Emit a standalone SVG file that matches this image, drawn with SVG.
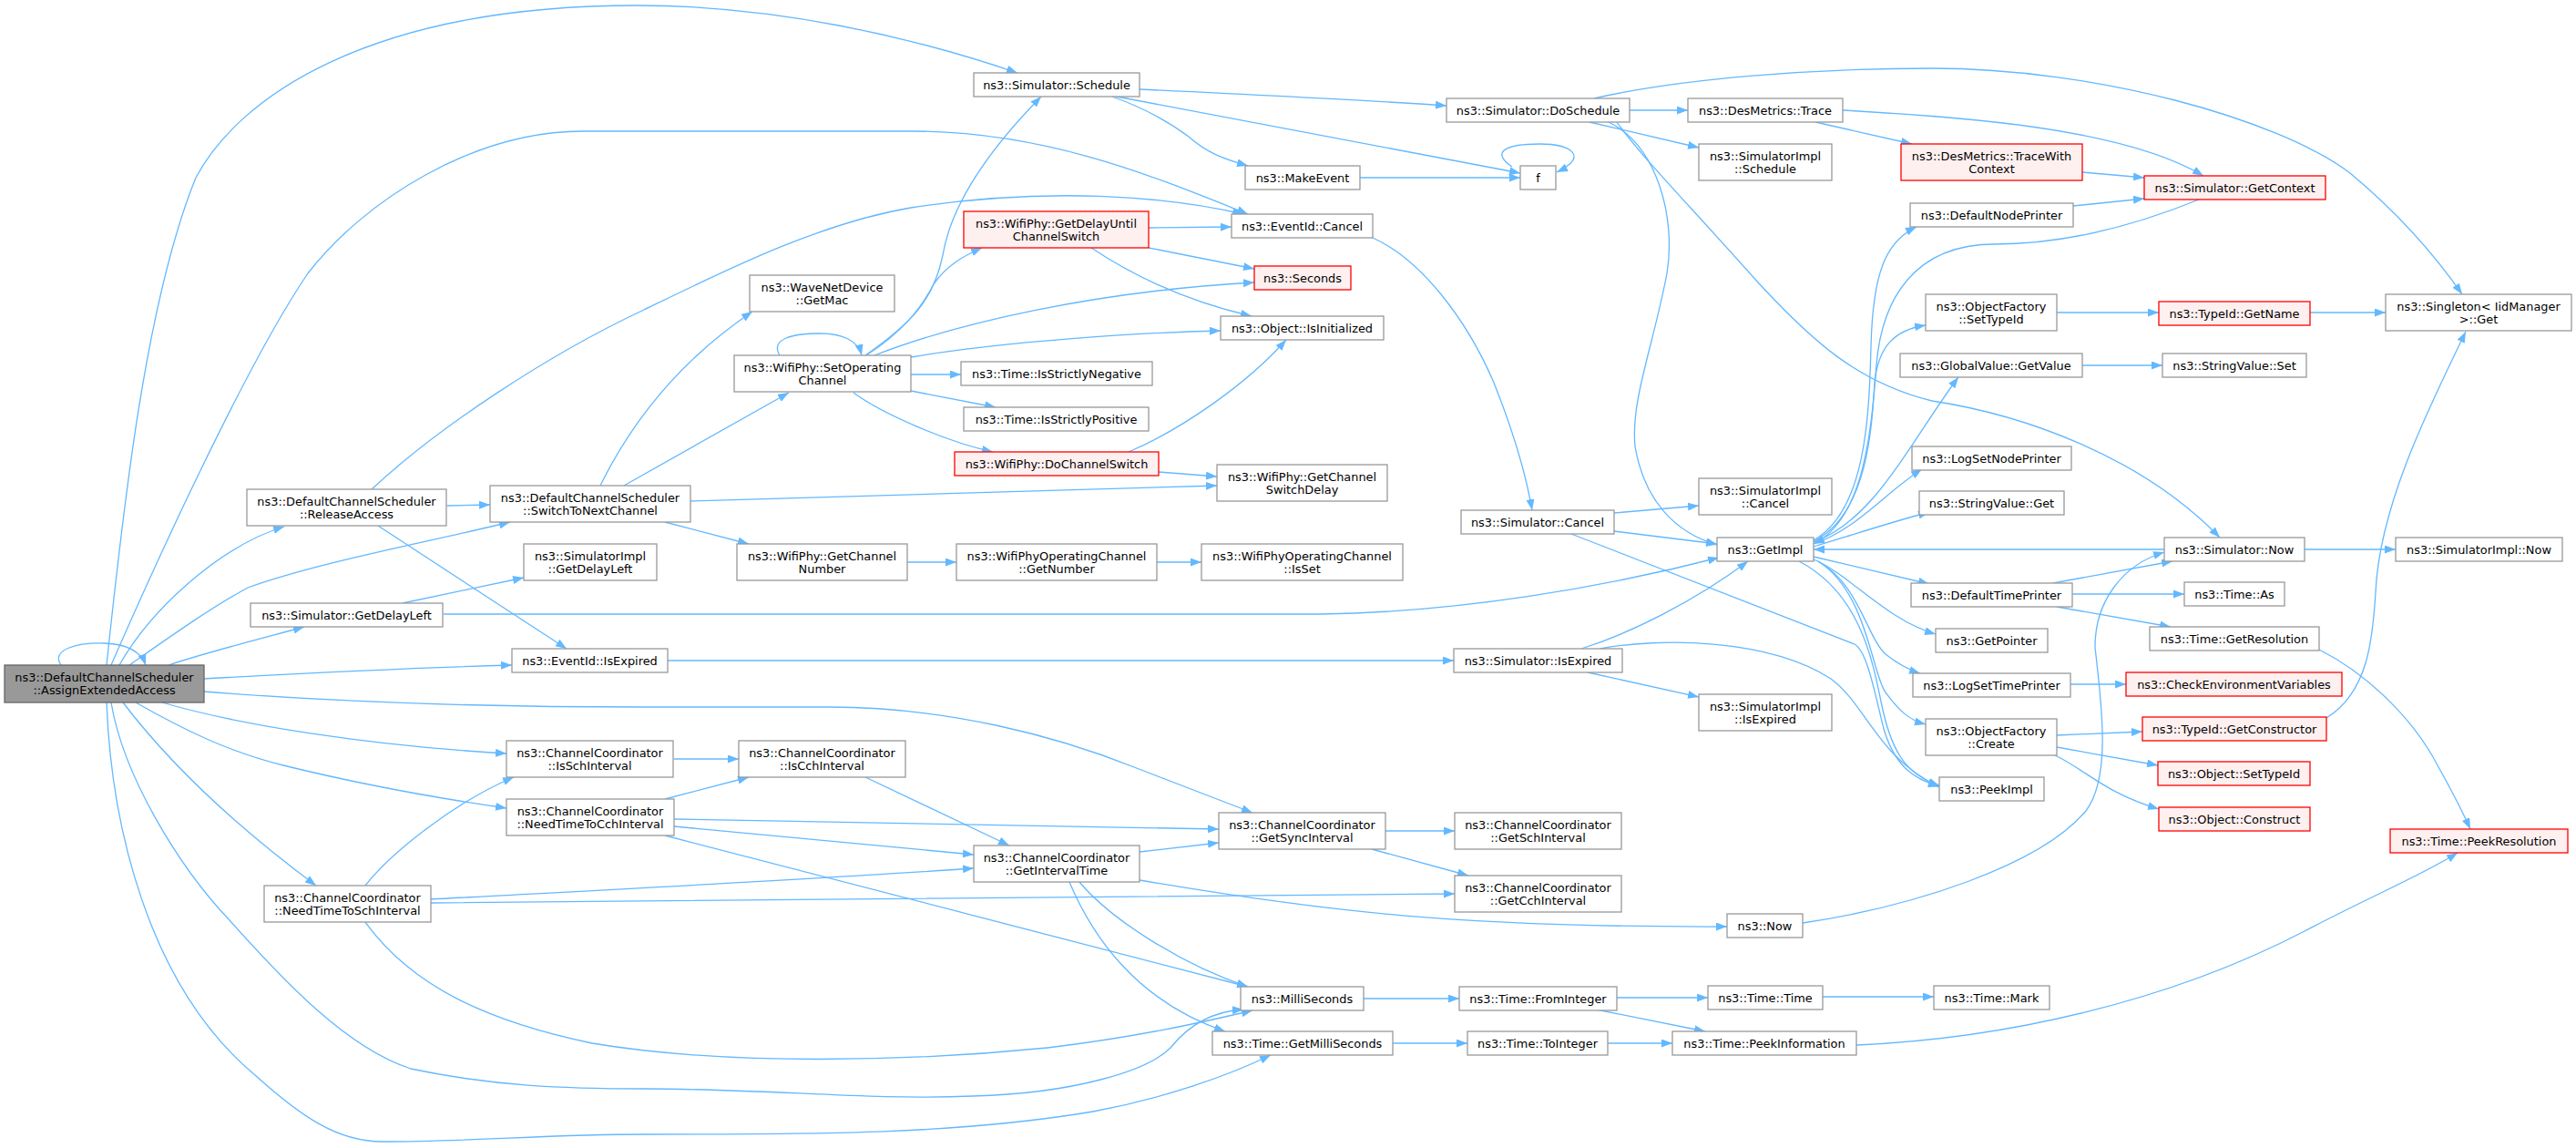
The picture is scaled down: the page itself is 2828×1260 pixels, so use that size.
<svg xmlns="http://www.w3.org/2000/svg" width="2828" height="1260" viewBox="0 0 2828 1260">
<defs>
<marker id="a" markerUnits="userSpaceOnUse" markerWidth="13" markerHeight="10" refX="12" refY="4.5" orient="auto"><path d="M0,0 L12,4.5 L0,9 z" fill="#63B8FF"/></marker>
</defs>
<style>
rect{fill:#fff;stroke:#999;stroke-width:1.3}
.r rect{fill:#FFF0F0;stroke:#FF0000}
.m rect{fill:#999;stroke:#666}
text{font-family:"DejaVu Sans","Liberation Sans",sans-serif;font-size:12.9px;text-anchor:middle;fill:#000}
.e path{fill:none;stroke:#63B8FF;stroke-width:1.3;marker-end:url(#a)}
</style>
<rect x="0" y="0" width="2828" height="1260" style="fill:#fff;stroke:none"/>
<g id="edges" class="e">
<path d="M67,730 C55,713 85,705 115,706 C140,707 155,716 160,730"/>
<path d="M117,730 C135,560 160,330 215,195 C260,110 400,6 700,6 C850,6 1000,40 1117,80"/>
<path d="M122,730 C170,620 270,400 338,300 C400,220 520,144 640,144 L1000,144 C1150,144 1270,195 1370,235"/>
<path d="M131,730 C165,670 240,600 312,578"/>
<path d="M142,730 C185,700 230,668 272,645 C350,617 470,595 560,573"/>
<path d="M185,730 C230,715 290,700 334,688"/>
<path d="M224,745 C350,738 450,733 562,730"/>
<path d="M224,759 C400,773 560,776 707,776 L910,776 C1040,776 1160,808 1245,842 L1375,892"/>
<path d="M178,771 C260,795 400,818 556,827"/>
<path d="M149,771 C200,800 250,825 311,840 C400,862 480,876 556,887"/>
<path d="M135,771 C180,830 250,900 347,972"/>
<path d="M122,771 C135,850 195,950 252,1010 C310,1075 380,1150 451,1173 C540,1192 620,1195 707,1195 C850,1195 950,1208 1068,1203 C1180,1200 1260,1175 1285,1150 C1305,1125 1330,1110 1365,1108"/>
<path d="M117,771 C122,900 160,1080 280,1180 C330,1225 370,1253 420,1253 C520,1253 600,1245 707,1245 C900,1245 1050,1245 1200,1220 C1280,1205 1350,1180 1395,1158"/>
<path d="M491,555 L538,554"/>
<path d="M415,577 L622,712"/>
<path d="M408,537 C480,470 600,390 707,340 C800,295 900,245 1000,228 C1150,205 1280,215 1365,235"/>
<path d="M442,662 L575,634"/>
<path d="M487,674 L1450,674 C1600,672 1760,645 1887,612"/>
<path d="M659,533 C690,470 740,400 826,342"/>
<path d="M685,533 L866,431"/>
<path d="M758,550 L1336,533"/>
<path d="M730,573 L822,597"/>
<path d="M856,390 C845,372 870,366 900,366 C925,366 942,374 946,390"/>
<path d="M950,390 C1000,355 1025,330 1035,280 C1045,220 1090,160 1143,106"/>
<path d="M951,390 C990,365 1010,340 1025,312 C1040,290 1060,280 1078,272"/>
<path d="M960,390 C1050,355 1200,320 1377,310"/>
<path d="M1000,392 C1100,375 1250,365 1340,363"/>
<path d="M1000,411 L1055,411"/>
<path d="M1000,429 L1093,447"/>
<path d="M937,431 C970,455 1040,485 1090,496"/>
<path d="M1261,250 L1352,249"/>
<path d="M1261,272 L1377,295"/>
<path d="M1198,272 C1240,300 1300,330 1374,347"/>
<path d="M1272,518 L1336,523"/>
<path d="M1239,496 C1300,470 1370,420 1412,373"/>
<path d="M996,617 L1050,617"/>
<path d="M1270,617 L1319,617"/>
<path d="M1251,98 C1400,105 1500,110 1588,116"/>
<path d="M1221,106 C1260,120 1285,135 1305,150 C1325,168 1345,175 1370,182"/>
<path d="M1226,106 L1669,190"/>
<path d="M1493,195 L1669,195"/>
<path d="M1660,183 C1635,166 1655,158 1690,158 C1725,158 1745,172 1709,189"/>
<path d="M1507,261 C1560,285 1610,350 1640,420 C1660,470 1675,520 1682,560"/>
<path d="M1789,121 L1853,121"/>
<path d="M1745,134 L1865,162"/>
<path d="M1750,108 C1850,85 2000,75 2121,75 C2300,75 2500,130 2580,190 C2640,240 2680,290 2703,323"/>
<path d="M1766,134 C1820,160 1840,240 1830,300 C1815,380 1790,440 1795,490 C1805,550 1840,585 1885,598"/>
<path d="M1775,134 C1800,170 1850,220 1930,310 C1990,375 2040,420 2121,440 C2220,455 2350,500 2437,590"/>
<path d="M1993,134 L2099,158"/>
<path d="M2023,121 C2150,128 2330,140 2419,193"/>
<path d="M2286,189 L2354,195"/>
<path d="M2276,226 L2354,218"/>
<path d="M2414,219 C2350,245 2270,268 2190,268 C2100,268 2066,330 2060,400 C2054,480 2045,570 1991,597"/>
<path d="M2376,603 L1991,603"/>
<path d="M1991,593 C2050,560 2052,450 2054,380 C2056,300 2070,265 2104,249"/>
<path d="M1991,594 C2050,565 2055,470 2058,420 C2062,380 2080,362 2114,357"/>
<path d="M1991,595 C2060,570 2100,480 2150,414"/>
<path d="M1991,597 C2040,580 2070,540 2110,515"/>
<path d="M1991,600 C2040,585 2080,572 2118,562"/>
<path d="M1991,611 L2118,641"/>
<path d="M1991,614 C2030,630 2070,680 2125,696"/>
<path d="M1996,616 C2040,640 2050,700 2070,718 C2085,730 2095,735 2108,739"/>
<path d="M1996,616 C2050,650 2055,740 2070,760 C2085,780 2095,790 2114,795"/>
<path d="M1975,616 C2040,650 2055,720 2065,770 C2075,820 2090,850 2129,862"/>
<path d="M1725,586 L2036,707 C2050,715 2058,760 2068,800 C2080,840 2100,855 2129,863"/>
<path d="M1757,712 C1820,700 1940,700 2010,745 C2050,775 2060,830 2129,864"/>
<path d="M1772,563 L1865,555"/>
<path d="M1772,583 L1885,597"/>
<path d="M1736,712 C1790,695 1860,660 1919,616"/>
<path d="M1743,738 L1865,765"/>
<path d="M733,725 L1596,725"/>
<path d="M2258,343 L2370,343"/>
<path d="M2536,343 L2619,343"/>
<path d="M2286,401 L2374,401"/>
<path d="M2530,603 L2630,603"/>
<path d="M2254,640 L2385,616"/>
<path d="M2275,652 L2398,652"/>
<path d="M2258,666 L2383,688"/>
<path d="M1979,1013 C2100,995 2240,950 2290,890 C2320,850 2305,760 2300,710 C2300,660 2330,620 2376,606"/>
<path d="M2273,751 L2334,751"/>
<path d="M2258,807 L2352,803"/>
<path d="M2258,820 L2369,840"/>
<path d="M2256,829 C2290,845 2310,870 2370,888"/>
<path d="M2554,788 C2600,760 2605,700 2608,650 C2612,560 2660,460 2707,364"/>
<path d="M2546,713 C2600,740 2650,790 2676,840 C2690,865 2703,890 2712,910"/>
<path d="M2038,1147 C2200,1140 2380,1100 2530,1022 C2600,985 2660,960 2698,936"/>
<path d="M740,833 L811,833"/>
<path d="M950,853 L1108,928"/>
<path d="M730,877 L822,853"/>
<path d="M740,899 L1338,910"/>
<path d="M740,907 L1069,938"/>
<path d="M730,917 L1370,1083"/>
<path d="M401,972 C430,935 500,880 564,853"/>
<path d="M473,987 C600,980 900,965 1069,953"/>
<path d="M473,991 C800,988 1200,984 1597,981"/>
<path d="M401,1012 C450,1080 530,1120 650,1145 C800,1170 1000,1165 1150,1150 C1250,1138 1320,1122 1375,1109"/>
<path d="M1251,935 L1338,925"/>
<path d="M1185,968 C1220,1010 1300,1060 1370,1083"/>
<path d="M1174,968 C1200,1030 1250,1100 1345,1132"/>
<path d="M1251,966 C1450,1000 1600,1018 1896,1017"/>
<path d="M1521,912 L1597,912"/>
<path d="M1506,932 L1612,961"/>
<path d="M1497,1096 L1602,1096"/>
<path d="M1529,1145 L1611,1145"/>
<path d="M1775,1095 L1875,1095"/>
<path d="M1752,1108 L1872,1132"/>
<path d="M1765,1145 L1836,1145"/>
<path d="M2001,1094 L2123,1094"/>
</g>
<g id="n0" class="m"><rect x="5" y="730" width="219" height="41"/><text x="114.5" y="748">ns3::DefaultChannelScheduler</text><text x="114.5" y="762">::AssignExtendedAccess</text></g>
<g id="n1"><rect x="271" y="537" width="219" height="40"/><text x="380.5" y="554.5">ns3::DefaultChannelScheduler</text><text x="380.5" y="568.5">::ReleaseAccess</text></g>
<g id="n2"><rect x="538" y="533" width="220" height="40"/><text x="648" y="550.5">ns3::DefaultChannelScheduler</text><text x="648" y="564.5">::SwitchToNextChannel</text></g>
<g id="n3"><rect x="575" y="597" width="146" height="40"/><text x="648" y="614.5">ns3::SimulatorImpl</text><text x="648" y="628.5">::GetDelayLeft</text></g>
<g id="n4"><rect x="275" y="662" width="211" height="26"/><text x="380.5" y="679.5">ns3::Simulator::GetDelayLeft</text></g>
<g id="n5"><rect x="562" y="712" width="171" height="26"/><text x="647.5" y="729.5">ns3::EventId::IsExpired</text></g>
<g id="n6"><rect x="556" y="813" width="183" height="40"/><text x="647.5" y="830.5">ns3::ChannelCoordinator</text><text x="647.5" y="844.5">::IsSchInterval</text></g>
<g id="n7"><rect x="556" y="877" width="184" height="40"/><text x="648" y="894.5">ns3::ChannelCoordinator</text><text x="648" y="908.5">::NeedTimeToCchInterval</text></g>
<g id="n8"><rect x="290" y="972" width="183" height="40"/><text x="381.5" y="989.5">ns3::ChannelCoordinator</text><text x="381.5" y="1003.5">::NeedTimeToSchInterval</text></g>
<g id="n9"><rect x="1069" y="80" width="182" height="26"/><text x="1160" y="97.5">ns3::Simulator::Schedule</text></g>
<g id="n10"><rect x="1367" y="182" width="126" height="26"/><text x="1430" y="199.5">ns3::MakeEvent</text></g>
<g id="n11"><rect x="1352" y="235" width="155" height="26"/><text x="1429.5" y="252.5">ns3::EventId::Cancel</text></g>
<g id="n12" class="r"><rect x="1058" y="232" width="203" height="40"/><text x="1159.5" y="249.5">ns3::WifiPhy::GetDelayUntil</text><text x="1159.5" y="263.5">ChannelSwitch</text></g>
<g id="n13" class="r"><rect x="1377" y="292" width="106" height="26"/><text x="1430" y="309.5">ns3::Seconds</text></g>
<g id="n14"><rect x="1340" y="347" width="179" height="26"/><text x="1429.5" y="364.5">ns3::Object::IsInitialized</text></g>
<g id="n15"><rect x="823" y="302" width="159" height="40"/><text x="902.5" y="319.5">ns3::WaveNetDevice</text><text x="902.5" y="333.5">::GetMac</text></g>
<g id="n16"><rect x="806" y="390" width="194" height="40"/><text x="903" y="407.5">ns3::WifiPhy::SetOperating</text><text x="903" y="421.5">Channel</text></g>
<g id="n17"><rect x="1055" y="397" width="210" height="26"/><text x="1160" y="414.5">ns3::Time::IsStrictlyNegative</text></g>
<g id="n18"><rect x="1058" y="447" width="203" height="26"/><text x="1159.5" y="464.5">ns3::Time::IsStrictlyPositive</text></g>
<g id="n19" class="r"><rect x="1048" y="496" width="224" height="26"/><text x="1160" y="513.5">ns3::WifiPhy::DoChannelSwitch</text></g>
<g id="n20"><rect x="1336" y="510" width="187" height="40"/><text x="1429.5" y="527.5">ns3::WifiPhy::GetChannel</text><text x="1429.5" y="541.5">SwitchDelay</text></g>
<g id="n21"><rect x="809" y="597" width="187" height="40"/><text x="902.5" y="614.5">ns3::WifiPhy::GetChannel</text><text x="902.5" y="628.5">Number</text></g>
<g id="n22"><rect x="1050" y="597" width="220" height="40"/><text x="1160" y="614.5">ns3::WifiPhyOperatingChannel</text><text x="1160" y="628.5">::GetNumber</text></g>
<g id="n23"><rect x="1319" y="597" width="221" height="40"/><text x="1429.5" y="614.5">ns3::WifiPhyOperatingChannel</text><text x="1429.5" y="628.5">::IsSet</text></g>
<g id="n24"><rect x="811" y="813" width="183" height="40"/><text x="902.5" y="830.5">ns3::ChannelCoordinator</text><text x="902.5" y="844.5">::IsCchInterval</text></g>
<g id="n25"><rect x="1069" y="928" width="182" height="40"/><text x="1160" y="945.5">ns3::ChannelCoordinator</text><text x="1160" y="959.5">::GetIntervalTime</text></g>
<g id="n26"><rect x="1338" y="892" width="183" height="40"/><text x="1429.5" y="909.5">ns3::ChannelCoordinator</text><text x="1429.5" y="923.5">::GetSyncInterval</text></g>
<g id="n27"><rect x="1362" y="1083" width="135" height="26"/><text x="1429.5" y="1100.5">ns3::MilliSeconds</text></g>
<g id="n28"><rect x="1331" y="1132" width="198" height="26"/><text x="1430" y="1149.5">ns3::Time::GetMilliSeconds</text></g>
<g id="n29"><rect x="1588" y="108" width="201" height="26"/><text x="1688.5" y="125.5">ns3::Simulator::DoSchedule</text></g>
<g id="n30"><rect x="1853" y="108" width="170" height="26"/><text x="1938" y="125.5">ns3::DesMetrics::Trace</text></g>
<g id="n31"><rect x="1865" y="158" width="146" height="40"/><text x="1938" y="175.5">ns3::SimulatorImpl</text><text x="1938" y="189.5">::Schedule</text></g>
<g id="n32"><rect x="1669" y="182" width="39" height="26"/><text x="1688.5" y="199.5">f</text></g>
<g id="n33" class="r"><rect x="2087" y="158" width="199" height="40"/><text x="2186.5" y="175.5">ns3::DesMetrics::TraceWith</text><text x="2186.5" y="189.5">Context</text></g>
<g id="n34"><rect x="2097" y="223" width="179" height="26"/><text x="2186.5" y="240.5">ns3::DefaultNodePrinter</text></g>
<g id="n35"><rect x="2114" y="323" width="144" height="40"/><text x="2186" y="340.5">ns3::ObjectFactory</text><text x="2186" y="354.5">::SetTypeId</text></g>
<g id="n36"><rect x="2086" y="388" width="200" height="26"/><text x="2186" y="405.5">ns3::GlobalValue::GetValue</text></g>
<g id="n37"><rect x="1604" y="560" width="168" height="26"/><text x="1688" y="577.5">ns3::Simulator::Cancel</text></g>
<g id="n38"><rect x="1865" y="525" width="146" height="40"/><text x="1938" y="542.5">ns3::SimulatorImpl</text><text x="1938" y="556.5">::Cancel</text></g>
<g id="n39"><rect x="1885" y="590" width="106" height="26"/><text x="1938" y="607.5">ns3::GetImpl</text></g>
<g id="n40"><rect x="1596" y="712" width="185" height="26"/><text x="1688.5" y="729.5">ns3::Simulator::IsExpired</text></g>
<g id="n41"><rect x="1865" y="762" width="146" height="40"/><text x="1938" y="779.5">ns3::SimulatorImpl</text><text x="1938" y="793.5">::IsExpired</text></g>
<g id="n42"><rect x="2099" y="490" width="175" height="26"/><text x="2186.5" y="507.5">ns3::LogSetNodePrinter</text></g>
<g id="n43"><rect x="2107" y="539" width="159" height="26"/><text x="2186.5" y="556.5">ns3::StringValue::Get</text></g>
<g id="n44"><rect x="2098" y="640" width="177" height="26"/><text x="2186.5" y="657.5">ns3::DefaultTimePrinter</text></g>
<g id="n45"><rect x="2100" y="739" width="173" height="26"/><text x="2186.5" y="756.5">ns3::LogSetTimePrinter</text></g>
<g id="n46"><rect x="2114" y="789" width="144" height="40"/><text x="2186" y="806.5">ns3::ObjectFactory</text><text x="2186" y="820.5">::Create</text></g>
<g id="n47"><rect x="2125" y="690" width="123" height="26"/><text x="2186.5" y="707.5">ns3::GetPointer</text></g>
<g id="n48"><rect x="2129" y="853" width="115" height="26"/><text x="2186.5" y="870.5">ns3::PeekImpl</text></g>
<g id="n49"><rect x="1597" y="892" width="183" height="40"/><text x="1688.5" y="909.5">ns3::ChannelCoordinator</text><text x="1688.5" y="923.5">::GetSchInterval</text></g>
<g id="n50"><rect x="1597" y="961" width="183" height="40"/><text x="1688.5" y="978.5">ns3::ChannelCoordinator</text><text x="1688.5" y="992.5">::GetCchInterval</text></g>
<g id="n51"><rect x="1896" y="1003" width="83" height="26"/><text x="1937.5" y="1020.5">ns3::Now</text></g>
<g id="n52"><rect x="1602" y="1083" width="173" height="26"/><text x="1688.5" y="1100.5">ns3::Time::FromInteger</text></g>
<g id="n53"><rect x="1875" y="1082" width="126" height="26"/><text x="1938" y="1099.5">ns3::Time::Time</text></g>
<g id="n54"><rect x="1611" y="1132" width="154" height="26"/><text x="1688" y="1149.5">ns3::Time::ToInteger</text></g>
<g id="n55"><rect x="1836" y="1132" width="202" height="26"/><text x="1937" y="1149.5">ns3::Time::PeekInformation</text></g>
<g id="n56"><rect x="2123" y="1082" width="127" height="26"/><text x="2186.5" y="1099.5">ns3::Time::Mark</text></g>
<g id="n57" class="r"><rect x="2354" y="193" width="199" height="26"/><text x="2453.5" y="210.5">ns3::Simulator::GetContext</text></g>
<g id="n58" class="r"><rect x="2370" y="331" width="166" height="26"/><text x="2453" y="348.5">ns3::TypeId::GetName</text></g>
<g id="n59"><rect x="2619" y="323" width="204" height="40"/><text x="2721" y="340.5">ns3::Singleton&lt; IidManager</text><text x="2721" y="354.5">&gt;::Get</text></g>
<g id="n60"><rect x="2374" y="388" width="158" height="26"/><text x="2453" y="405.5">ns3::StringValue::Set</text></g>
<g id="n61"><rect x="2376" y="590" width="154" height="26"/><text x="2453" y="607.5">ns3::Simulator::Now</text></g>
<g id="n62"><rect x="2630" y="590" width="183" height="26"/><text x="2721.5" y="607.5">ns3::SimulatorImpl::Now</text></g>
<g id="n63"><rect x="2398" y="639" width="110" height="26"/><text x="2453" y="656.5">ns3::Time::As</text></g>
<g id="n64"><rect x="2360" y="688" width="186" height="26"/><text x="2453" y="705.5">ns3::Time::GetResolution</text></g>
<g id="n65" class="r"><rect x="2334" y="738" width="237" height="26"/><text x="2452.5" y="755.5">ns3::CheckEnvironmentVariables</text></g>
<g id="n66" class="r"><rect x="2352" y="787" width="202" height="26"/><text x="2453" y="804.5">ns3::TypeId::GetConstructor</text></g>
<g id="n67" class="r"><rect x="2369" y="836" width="167" height="26"/><text x="2452.5" y="853.5">ns3::Object::SetTypeId</text></g>
<g id="n68" class="r"><rect x="2370" y="886" width="166" height="26"/><text x="2453" y="903.5">ns3::Object::Construct</text></g>
<g id="n69" class="r"><rect x="2624" y="910" width="195" height="26"/><text x="2721.5" y="927.5">ns3::Time::PeekResolution</text></g>
</svg>
